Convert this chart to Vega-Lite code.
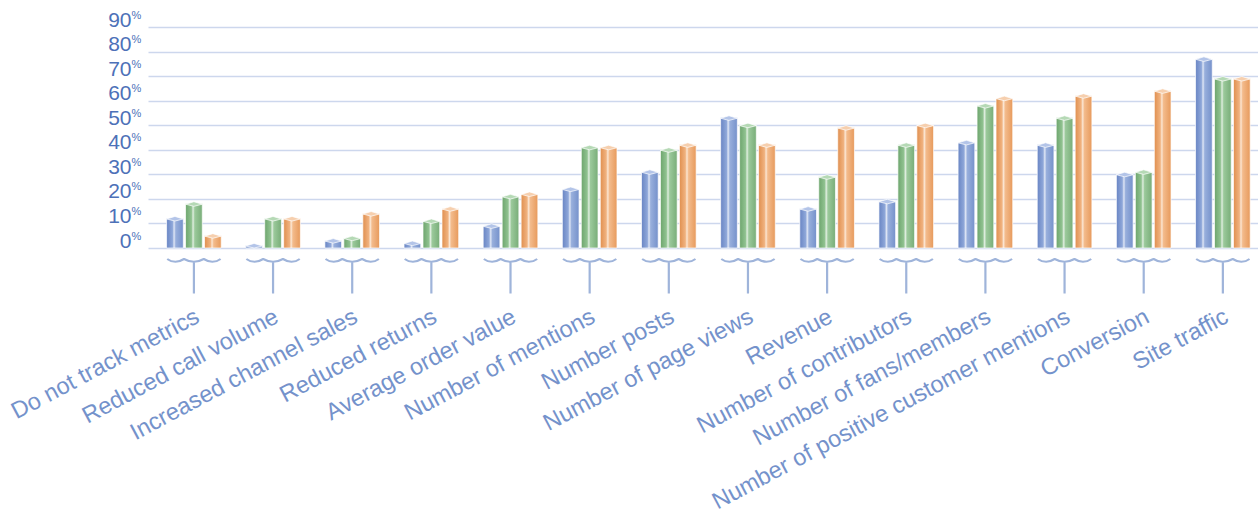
{
  "$schema": "https://vega.github.io/schema/vega-lite/v6.json",
  "width": 1110,
  "height": 221,
  "autosize": {"type": "none"},
  "padding": {"left": 148, "top": 27, "right": 0, "bottom": 274},
  "background": "white",
  "config": {"view": {"stroke": null}, "font": "Liberation Sans"},
  "data": {
    "values": [
      {"metric": "Do not track metrics", "series": "s1", "value": 12},
      {"metric": "Do not track metrics", "series": "s2", "value": 18},
      {"metric": "Do not track metrics", "series": "s3", "value": 5},
      {"metric": "Reduced call volume", "series": "s1", "value": 1},
      {"metric": "Reduced call volume", "series": "s2", "value": 12},
      {"metric": "Reduced call volume", "series": "s3", "value": 12},
      {"metric": "Increased channel sales", "series": "s1", "value": 3},
      {"metric": "Increased channel sales", "series": "s2", "value": 4},
      {"metric": "Increased channel sales", "series": "s3", "value": 14},
      {"metric": "Reduced returns", "series": "s1", "value": 2},
      {"metric": "Reduced returns", "series": "s2", "value": 11},
      {"metric": "Reduced returns", "series": "s3", "value": 16},
      {"metric": "Average order value", "series": "s1", "value": 9},
      {"metric": "Average order value", "series": "s2", "value": 21},
      {"metric": "Average order value", "series": "s3", "value": 22},
      {"metric": "Number of mentions", "series": "s1", "value": 24},
      {"metric": "Number of mentions", "series": "s2", "value": 41},
      {"metric": "Number of mentions", "series": "s3", "value": 41},
      {"metric": "Number posts", "series": "s1", "value": 31},
      {"metric": "Number posts", "series": "s2", "value": 40},
      {"metric": "Number posts", "series": "s3", "value": 42},
      {"metric": "Number of page views", "series": "s1", "value": 53},
      {"metric": "Number of page views", "series": "s2", "value": 50},
      {"metric": "Number of page views", "series": "s3", "value": 42},
      {"metric": "Revenue", "series": "s1", "value": 16},
      {"metric": "Revenue", "series": "s2", "value": 29},
      {"metric": "Revenue", "series": "s3", "value": 49},
      {"metric": "Number of contributors", "series": "s1", "value": 19},
      {"metric": "Number of contributors", "series": "s2", "value": 42},
      {"metric": "Number of contributors", "series": "s3", "value": 50},
      {"metric": "Number of fans/members", "series": "s1", "value": 43},
      {"metric": "Number of fans/members", "series": "s2", "value": 58},
      {"metric": "Number of fans/members", "series": "s3", "value": 61},
      {"metric": "Number of positive customer mentions", "series": "s1", "value": 42},
      {"metric": "Number of positive customer mentions", "series": "s2", "value": 53},
      {"metric": "Number of positive customer mentions", "series": "s3", "value": 62},
      {"metric": "Conversion", "series": "s1", "value": 30},
      {"metric": "Conversion", "series": "s2", "value": 31},
      {"metric": "Conversion", "series": "s3", "value": 64},
      {"metric": "Site traffic", "series": "s1", "value": 77},
      {"metric": "Site traffic", "series": "s2", "value": 69},
      {"metric": "Site traffic", "series": "s3", "value": 69}
    ]
  },
  "encoding": {
    "x": {
      "field": "metric",
      "type": "nominal",
      "sort": null,
      "scale": {"paddingInner": 0.3, "paddingOuter": 0.162, "align": 0.71},
      "axis": {
        "title": null,
        "domain": false,
        "ticks": false,
        "tickSize": 0,
        "labelAngle": -28,
        "labelAlign": "right",
        "labelBaseline": "alphabetic",
        "labelPadding": 73,
        "labelOffset": 7,
        "labelFontSize": 23.5,
        "labelFont": "Liberation Sans",
        "labelColor": "#7492cb",
        "labelLimit": 0,
        "labelOverlap": false,
        "labelBound": false,
        "labelFlush": false
      }
    }
  },
  "layer": [
    {
      "transform": [{"filter": "datum.series === 's2'"}],
      "mark": {
        "type": "point",
        "shape": "M-0.97,0.40 Q-0.84,0.50 -0.67,0.50 Q-0.52,0.50 -0.36,0.40 Q-0.18,0.50 0,0.50 Q0.18,0.50 0.36,0.40 Q0.52,0.50 0.67,0.50 Q0.84,0.50 0.97,0.40 M0,0.50 L0,1.65",
        "filled": false,
        "stroke": "#9fb4da",
        "strokeWidth": 2.2,
        "strokeJoin": "round",
        "size": 3025,
        "opacity": 1
      },
      "encoding": {
        "y": {"datum": 0, "type": "quantitative", "axis": null}
      }
    },
    {
      "transform": [{"filter": "datum.series === 's1'"}],
      "mark": {
        "type": "bar",
        "fill": {
          "gradient": "linear", "x1": 0, "y1": 0, "x2": 1, "y2": 0,
          "stops": [
            {"offset": 0, "color": "#6985c4"},
            {"offset": 0.35, "color": "#8ea7d9"},
            {"offset": 0.45, "color": "#dfe6f5"},
            {"offset": 0.55, "color": "#98afdc"},
            {"offset": 1, "color": "#7591cb"}
          ]
        },
        "stroke": "#ffffff",
        "strokeWidth": 1,
        "strokeOpacity": 0.7
      },
      "encoding": {
        "xOffset": {"field": "series", "type": "nominal", "scale": {"domain": ["s1", "s2", "s3"], "paddingInner": 0.12, "paddingOuter": 0.02}},
        "y": {
          "field": "value",
          "type": "quantitative",
          "scale": {"domain": [0, 90], "nice": false},
          "axis": {
            "title": null,
            "values": [0, 10, 20, 30, 40, 50, 60, 70, 80, 90],
            "grid": true,
            "gridColor": "#cdd7ed",
            "gridWidth": 1.5,
            "domain": false,
            "ticks": false,
            "tickSize": 0,
            "labelFontSize": 21,
            "labelFont": "Liberation Sans",
            "labelColor": "#4d71b8",
            "labelPadding": 17,
            "labelAlign": "right",
            "labelBaseline": "alphabetic",
            "labelOffset": -1
          }
        }
      }
    },
    {
      "transform": [{"filter": "datum.series === 's2'"}],
      "mark": {
        "type": "bar",
        "fill": {
          "gradient": "linear", "x1": 0, "y1": 0, "x2": 1, "y2": 0,
          "stops": [
            {"offset": 0, "color": "#6da56d"},
            {"offset": 0.35, "color": "#90c290"},
            {"offset": 0.45, "color": "#e0eee0"},
            {"offset": 0.55, "color": "#9bc99b"},
            {"offset": 1, "color": "#78ad78"}
          ]
        },
        "stroke": "#ffffff",
        "strokeWidth": 1,
        "strokeOpacity": 0.7
      },
      "encoding": {
        "xOffset": {"field": "series", "type": "nominal"},
        "y": {"field": "value", "type": "quantitative", "axis": null}
      }
    },
    {
      "transform": [{"filter": "datum.series === 's3'"}],
      "mark": {
        "type": "bar",
        "fill": {
          "gradient": "linear", "x1": 0, "y1": 0, "x2": 1, "y2": 0,
          "stops": [
            {"offset": 0, "color": "#e08f4f"},
            {"offset": 0.35, "color": "#f0b27f"},
            {"offset": 0.45, "color": "#fbe6d3"},
            {"offset": 0.55, "color": "#f3bb8c"},
            {"offset": 1, "color": "#e79a5c"}
          ]
        },
        "stroke": "#ffffff",
        "strokeWidth": 1,
        "strokeOpacity": 0.7
      },
      "encoding": {
        "xOffset": {"field": "series", "type": "nominal"},
        "y": {"field": "value", "type": "quantitative", "axis": null}
      }
    },
    {
      "mark": {
        "type": "point",
        "shape": "M-1,0.05 L0,-0.25 L1,0.05 L0,0.3 Z",
        "filled": true,
        "size": 280,
        "opacity": 1,
        "stroke": "#ffffff",
        "strokeWidth": 0.7
      },
      "encoding": {
        "xOffset": {"field": "series", "type": "nominal"},
        "y": {
          "field": "value",
          "type": "quantitative",
          "axis": {
            "title": null,
            "orient": "left",
            "values": [0, 10, 20, 30, 40, 50, 60, 70, 80, 90],
            "labelExpr": "'%'",
            "grid": false,
            "domain": false,
            "ticks": false,
            "tickSize": 0,
            "labelFontSize": 11,
            "labelFont": "Liberation Sans",
            "labelColor": "#4d71b8",
            "labelPadding": 17,
            "labelAlign": "left",
            "labelBaseline": "alphabetic",
            "labelOffset": -9
          }
        },
        "color": {
          "field": "series",
          "type": "nominal",
          "legend": null,
          "scale": {"domain": ["s1", "s2", "s3"], "range": ["#b3c4e8", "#b5d9b5", "#f6cfae"]}
        }
      }
    }
  ],
  "resolve": {"axis": {"y": "independent"}}
}
